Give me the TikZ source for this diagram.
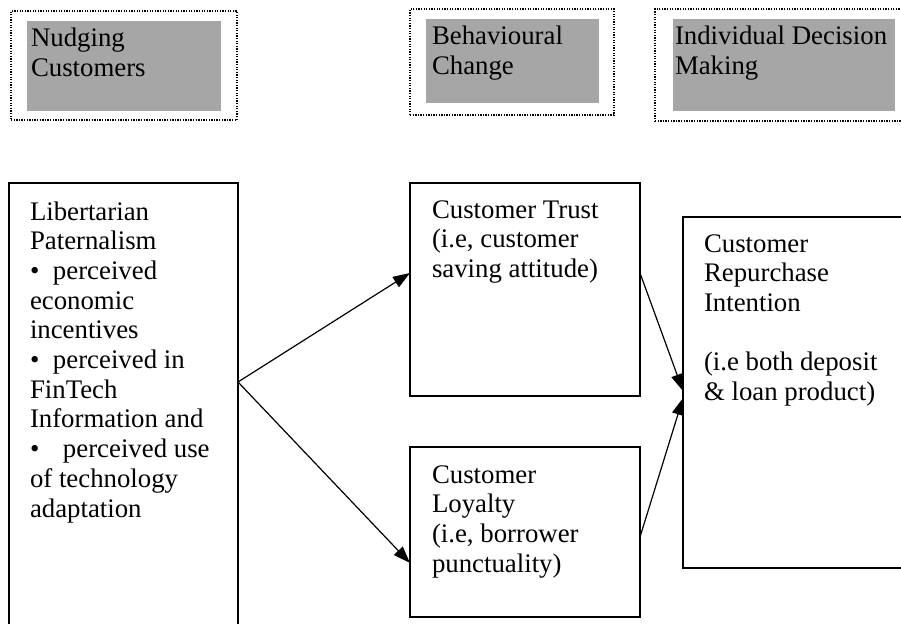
\documentclass[tikz,border=0pt]{standalone}
\usepackage{fontspec}
\setmainfont{Liberation Serif}
\usetikzlibrary{arrows.meta,calc}
\definecolor{hdrgray}{RGB}{166,166,166}
\tikzset{
  frame/.style={draw, line width=1.3pt, dash pattern=on 1.3pt off 1.3pt, anchor=north west, inner sep=0pt, outer sep=0pt},
  shade/.style={fill=hdrgray, draw=none, anchor=north west, inner sep=0pt, outer sep=0pt},
  boxframe/.style={draw, line width=1.3pt, anchor=north west, inner sep=0pt, outer sep=0pt},
  txt/.style={anchor=base west, inner sep=0pt, outer sep=0pt, font=\fontsize{26.8}{29.7}\selectfont},
  conn/.style={line width=1.2pt, -{Triangle[length=17pt,width=12pt]}}
}
\newcommand{\tb}[1]{\parbox[t]{300pt}{\raggedright #1}}
\begin{document}
\begin{tikzpicture}[x=1pt,y=-1pt]
\useasboundingbox (0,0) rectangle (901,623);
\clip (0,0) rectangle (901,623);
% header frames
\node[frame, minimum width=226pt, minimum height=109pt] (f1) at (11,11) {};
\node[shade, minimum width=194pt, minimum height=90pt] (g1) at (27,21) {};
\node[txt] (t1) at (31,47) {\tb{Nudging\\Customers}};
\node[frame, minimum width=204pt, minimum height=106pt] (f2) at (410,9) {};
\node[shade, minimum width=173pt, minimum height=84pt] (g2) at (426,19) {};
\node[txt] (t2) at (432,45) {\tb{Behavioural\\Change}};
\node[frame, minimum width=260pt, minimum height=112pt] (f3) at (655,9) {};
\node[shade, minimum width=222pt, minimum height=92pt] (g3) at (673,19) {};
\node[txt] (t3) at (675,45) {\tb{Individual Decision\\Making}};
% main boxes
\node[boxframe, minimum width=229pt, minimum height=470pt] (lib) at (9,183) {};
\node[txt] (libt) at (30,220) {\tb{Libertarian\\Paternalism\\\makebox[23pt][l]{\textbullet}perceived\\economic\\incentives\\\makebox[23pt][l]{\textbullet}perceived in\\FinTech\\Information and\\\makebox[33pt][l]{\textbullet}perceived use\\of technology\\adaptation}};
\node[boxframe, minimum width=230pt, minimum height=213pt] (trust) at (410,183) {};
\node[txt] (trustt) at (432,218) {\tb{Customer Trust\\(i.e, customer\\saving attitude)}};
\node[boxframe, minimum width=230pt, minimum height=170pt] (loy) at (410,447) {};
\node[txt] (loyt) at (432,483) {\tb{Customer\\Loyalty\\(i.e, borrower\\punctuality)}};
\node[boxframe, minimum width=240pt, minimum height=351pt] (rep) at (683,217) {};
\node[txt] (rept) at (704,252) {\tb{Customer\\Repurchase\\Intention\\[29.7pt](i.e both deposit\\\& loan product)}};
% connectors
\coordinate (o) at ($(lib.north east)+(0,199)$);
\coordinate (ta) at ($(trust.north west)+(0,90)$);
\coordinate (la) at ($(loy.north west)+(0,116)$);
\coordinate (tr) at ($(trust.north east)+(0,90)$);
\coordinate (lr) at ($(loy.north east)+(0,90)$);
\coordinate (ra) at ($(rep.north west)+(0,174)$);
\coordinate (rb) at ($(rep.north west)+(0,181)$);
\draw[conn] (o) -- (ta);
\draw[conn] (o) -- (la);
\draw[conn] (tr) -- (ra);
\draw[conn] (lr) -- (rb);
\end{tikzpicture}
\end{document}
